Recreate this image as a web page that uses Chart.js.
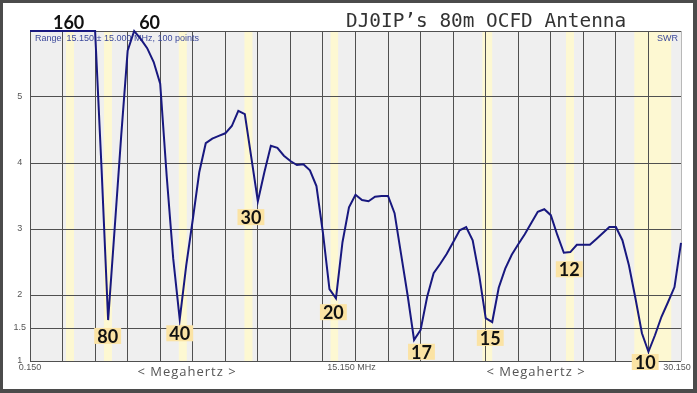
<!DOCTYPE html>
<html>
<head>
<meta charset="utf-8">
<script src="https://cdn.jsdelivr.net/npm/chart.js@4"></script>
<style>
  html, body { margin: 0; padding: 0; background: #fff; }
  #wrap { width: 697px; height: 393px; }
</style>
</head>
<body>
<div id="wrap"><canvas id="swrChart" width="697" height="393"></canvas></div>
<script>
// sweep: 15.150 MHz +/- 15.000 MHz, 0.3 MHz per step
const sweepStart = 0.15;
const sweepStep = 0.3;

// SWR (6 = off the top of the screen)
const swr = [
    6, 6, 6, 6, 6, 6, 6, 6, 6, 6, 6,
    3.9, 1.62, 3.0, 4.4, 5.7, 6.0, 5.88, 5.74, 5.53, 5.2,
    3.8, 2.55, 1.63, 2.45, 3.14, 3.86, 4.30, 4.37, 4.41, 4.45,
    4.56, 4.79, 4.74, 4.08, 3.42, 3.86, 4.26, 4.23, 4.11, 4.03,
    3.97, 3.98, 3.89, 3.65, 2.94, 2.09, 1.95, 2.8, 3.33, 3.52,
    3.44, 3.42, 3.49, 3.50, 3.50, 3.24, 2.62, 2.0, 1.32, 1.47,
    1.97, 2.33, 2.47, 2.62, 2.80, 2.98, 3.03, 2.83, 2.30, 1.65,
    1.59, 2.11, 2.40, 2.61, 2.77, 2.92, 3.09, 3.26, 3.30, 3.21,
    2.91, 2.64, 2.65, 2.76, 2.76, 2.76, 2.85, 2.94, 3.03, 3.03,
    2.83, 2.45, 1.95, 1.42, 1.14, 1.39, 1.67, 1.89, 2.12, 2.79
];
const freqs = swr.map((v, i) => +(sweepStart + i * sweepStep).toFixed(3));

// tick values
const yTicks = [1, 1.5, 2, 3, 4, 5, 6];
const xTicks = [];
for (let k = 0; k <= 20; k++) xTicks.push(+(sweepStart + k * 1.5).toFixed(3));
const xLabels = ['0.150', '15.150 MHz', '30.150'];
const xLabelAt = [0.15, 15.15, 30.15];

// ham bands (MHz) shaded in yellow
const bandLow  = [1.8, 3.5, 7.0, 10.1, 14.0, 21.0, 24.89, 28.0];
const bandHigh = [2.0, 3.8, 7.2, 10.15, 14.35, 21.45, 24.99, 29.7];

// band names on the chart
const bandNames = ['160', '60', '80', '40', '30', '20', '17', '15', '12', '10'];
const nameFreq  = [1.93, 5.66, 3.73, 7.05, 10.33, 14.13, 18.19, 21.36, 25.0, 28.5];
const nameSwr   = [6.14, 6.14, 1.38, 1.42, 3.18, 1.74, 1.14, 1.35, 2.39, 0.985];

const frame = {
    id: 'frame',
    beforeDraw(chart) {
        const c = chart.ctx, a = chart.chartArea, x = chart.scales.x;
        c.save();
        c.fillStyle = '#4b4b4b';
        c.fillRect(0, 0, chart.width, chart.height);
        c.fillStyle = '#ffffff';
        c.fillRect(3, 3, chart.width - 7, chart.height - 7);
        c.fillStyle = '#efefef';
        c.fillRect(a.left, a.top, a.right - a.left, a.bottom - a.top);
        c.fillStyle = '#fdf8d2';
        bandLow.forEach((lo, i) => {
            let x1 = x.getPixelForValue(lo), x2 = x.getPixelForValue(bandHigh[i]);
            if (x2 - x1 < 7) { const m = (x1 + x2) / 2 + 2; x1 = m - 4; x2 = m + 4; }
            c.fillRect(x1, a.top, x2 - x1, a.bottom - a.top);
        });
        c.restore();
    },
    beforeDatasetsDraw(chart) {
        const c = chart.ctx, a = chart.chartArea, x = chart.scales.x;
        c.save();
        c.fillStyle = '#3d4a9c';
        c.font = '9px "Liberation Sans", Arial, sans-serif';
        c.textBaseline = 'middle';
        c.textAlign = 'left';
        c.fillText('Range  15.150 \u00b1 15.000 MHz, 100 points', a.left + 5, a.top + 8);
        c.fillText('SWR', a.right - 24, a.top + 8);
        // frequency labels under the axis
        c.fillStyle = '#555';
        c.textAlign = 'center';
        const nudge = [0, -4, -4];
        xLabels.forEach((t, i) => {
            c.fillText(t, x.getPixelForValue(xLabelAt[i]) + nudge[i], a.bottom + 7);
        });
        c.restore();
    },
    afterDraw(chart) {
        const c = chart.ctx, x = chart.scales.x, y = chart.scales.y;
        c.save();
        // title
        c.fillStyle = '#333';
        c.font = '19.4px "DejaVu Sans Mono", "Liberation Mono", monospace';
        c.textAlign = 'left';
        c.textBaseline = 'alphabetic';
        c.fillText('DJ0IP\u2019s 80m OCFD Antenna', 346, 27);
        // axis captions
        c.fillStyle = '#555';
        c.font = '13px "Open Sans", sans-serif';
        c.textAlign = 'center';
        c.textBaseline = 'middle';
        c.letterSpacing = '1px';
        c.fillText('< Megahertz >', 187, 372);
        c.fillText('< Megahertz >', 536, 372);
        c.letterSpacing = '0px';
        // band names
        c.font = 'bold 18px Lato, "Open Sans", sans-serif';
        bandNames.forEach((t, i) => {
            const px = x.getPixelForValue(nameFreq[i]);
            const py = y.getPixelForValue(nameSwr[i]);
            const w = c.measureText(t).width;
            if (nameSwr[i] <= 6) {
                c.fillStyle = '#fbe3a4';
                c.fillRect(px - w / 2 - 3, py - 8, w + 6, 16);
            }
            c.fillStyle = '#111';
            c.fillText(t, px, py + 1);
        });
        c.restore();
    }
};

const ctx = document.getElementById('swrChart').getContext('2d');
const swrChart = new Chart(ctx, {
    type: 'line',
    data: {
        labels: freqs,
        datasets: [{
            label: 'SWR',
            data: swr,
            borderColor: '#18187f',
            borderWidth: 2,
            pointRadius: 0,
            tension: 0,
            fill: false,
            clip: 3
        }]
    },
    options: {
        responsive: false,
        animation: false,
        layout: { padding: { left: 0, top: 31, right: 16, bottom: 0 } },
        plugins: {
            legend: { display: false },
            tooltip: { enabled: false }
        },
        scales: {
            x: {
                type: 'linear',
                min: 0.15,
                max: 30.15,
                afterBuildTicks: s => { s.ticks = xTicks.map(v => ({ value: v })); },
                afterFit: s => { s.height = 32; },
                grid: {
                    color: c => c.index === 20 ? '#b8b8b8' : '#505050',
                    drawTicks: false
                },
                border: { display: false },
                ticks: {
                    autoSkip: false,
                    maxRotation: 0,
                    callback: () => ''
                }
            },
            y: {
                min: 1,
                max: 6,
                afterBuildTicks: s => { s.ticks = yTicks.map(v => ({ value: v })); },
                afterFit: s => { s.width = 30; },
                grid: { color: '#505050', drawTicks: false },
                border: { display: false },
                ticks: {
                    crossAlign: 'center',
                    padding: 4,
                    color: '#555',
                    font: { family: '"Liberation Sans", Arial, sans-serif', size: 9 },
                    callback: v => v === 6 ? '' : String(v)
                }
            }
        }
    },
    plugins: [frame]
});
</script>
</body>
</html>
